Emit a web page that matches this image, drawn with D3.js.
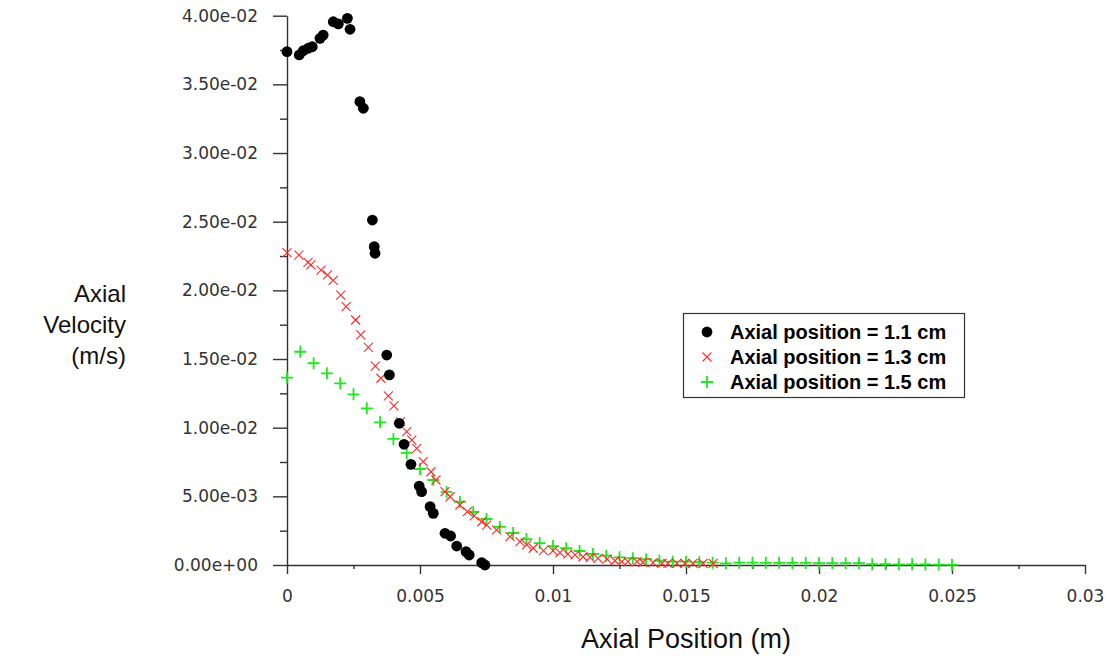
<!DOCTYPE html>
<html>
<head>
<meta charset="utf-8">
<script src="https://cdn.jsdelivr.net/npm/d3@7"></script>
<style>
  html, body { margin: 0; padding: 0; background: #ffffff; }
  svg { display: block; }
</style>
</head>
<body>
<svg id="chart" width="1105" height="662"></svg>
<script>
// Axial velocity profiles (m/s) against axial position (m) at three stations.
const seriesNames = ["Axial position = 1.1 cm", "Axial position = 1.3 cm", "Axial position = 1.5 cm"];

// Station 1.1 cm
const pos11 = [0, 0.00046, 0.00061, 0.00080, 0.00095, 0.00124, 0.00136, 0.00174, 0.00193, 0.00227,
  0.00237, 0.00274, 0.00287, 0.00321, 0.00328, 0.00331, 0.00375, 0.00385, 0.00422, 0.00440,
  0.00466, 0.00497, 0.00506, 0.00538, 0.00550, 0.00594, 0.00615, 0.00638, 0.00673, 0.00685,
  0.00732, 0.00744];
const vel11 = [0.03738, 0.03714, 0.03745, 0.03763, 0.03774, 0.03835, 0.03859, 0.03956, 0.03940, 0.03981,
  0.03901, 0.03374, 0.03326, 0.02512, 0.02318, 0.02270, 0.01529, 0.01384, 0.01032, 0.00879,
  0.00733, 0.00575, 0.00534, 0.00425, 0.00376, 0.00231, 0.00211, 0.00138, 0.00097, 0.00073,
  0.00017, 0.00000];

// Station 1.3 cm
const pos13 = [0, 0.00045, 0.00079, 0.00090, 0.00128, 0.00152, 0.00174, 0.00202, 0.00222, 0.00258,
  0.00277, 0.00306, 0.00332, 0.00353, 0.00381, 0.00402, 0.00427, 0.00450, 0.00469, 0.00488,
  0.00512, 0.00541, 0.00560, 0.00594, 0.00613, 0.00650, 0.00678, 0.00704, 0.00732, 0.00751,
  0.00788, 0.00838, 0.00876, 0.00901, 0.00926, 0.00964, 0.01000, 0.01026, 0.01056, 0.01083,
  0.01113, 0.01139, 0.01169, 0.01203, 0.01233, 0.01259, 0.01282, 0.01316, 0.01338, 0.01376,
  0.01410, 0.01432, 0.01466, 0.01496, 0.01526, 0.01564, 0.01602];
const vel13 = [0.02274, 0.02257, 0.02203, 0.02185, 0.02148, 0.02112, 0.02072, 0.01966, 0.01881, 0.01784,
  0.01675, 0.01585, 0.01449, 0.01360, 0.01231, 0.01158, 0.01044, 0.00971, 0.00910, 0.00850,
  0.00752, 0.00679, 0.00619, 0.00534, 0.00497, 0.00437, 0.00388, 0.00357, 0.00315, 0.00291,
  0.00255, 0.00206, 0.00170, 0.00146, 0.00122, 0.00104, 0.00104, 0.00090, 0.00080, 0.00073,
  0.00060, 0.00056, 0.00049, 0.00042, 0.00031, 0.00024, 0.00024, 0.00024, 0.00020, 0.00017,
  0.00012, 0.00012, 0.00012, 0.00012, 0.00012, 0.00012, 0.00012];

// Station 1.5 cm
const pos15 = [0, 0.0005, 0.001, 0.0015, 0.002, 0.0025, 0.003, 0.0035, 0.004, 0.0045,
  0.005, 0.0055, 0.006, 0.0065, 0.007, 0.0075, 0.008, 0.0085, 0.009, 0.0095,
  0.010, 0.0105, 0.011, 0.0115, 0.012, 0.0125, 0.013, 0.0135, 0.014, 0.0145,
  0.015, 0.0155, 0.016, 0.0165, 0.017, 0.0175, 0.018, 0.0185, 0.019, 0.0195,
  0.020, 0.0205, 0.021, 0.0215, 0.022, 0.0225, 0.023, 0.0235, 0.024, 0.0245, 0.025];
const vel15 = [0.01364, 0.01553, 0.01469, 0.01396, 0.01323, 0.01243, 0.01141, 0.01039, 0.00918, 0.00816,
  0.00699, 0.00619, 0.00532, 0.00459, 0.00386, 0.00335, 0.00277, 0.00233, 0.00189, 0.00160,
  0.00138, 0.00122, 0.00102, 0.00080, 0.00068, 0.00056, 0.00049, 0.00042, 0.00031, 0.00024,
  0.00024, 0.00020, 0.00017, 0.00012, 0.00017, 0.00017, 0.00016, 0.00016, 0.00015, 0.00015,
  0.00014, 0.00014, 0.00013, 0.00013, 0.00006, 0.00006, 0.00005, 0.00005, 0.00004, 0.00003, 0.00001];

// Axis ticks and their printed labels
const xTicks = [0, 0.005, 0.01, 0.015, 0.02, 0.025, 0.03];
const xTickLabels = ["0", "0.005", "0.01", "0.015", "0.02", "0.025", "0.03"];
const xMinorTicks = [0.0025, 0.0075, 0.0125, 0.0175, 0.0225, 0.0275];
const yTicks = [0, 0.005, 0.01, 0.015, 0.02, 0.025, 0.03, 0.035, 0.04];
const yTickLabels = ["0.00e+00", "5.00e-03", "1.00e-02", "1.50e-02", "2.00e-02",
  "2.50e-02", "3.00e-02", "3.50e-02", "4.00e-02"];
const yMinorTicks = [0.0025, 0.0075, 0.0125, 0.0175, 0.0225, 0.0275, 0.0325, 0.0375];

const svg = d3.select("#chart");
const axisColor = "#333333";
const font = "'Liberation Sans', Arial, sans-serif";
const tickFont = "'DejaVu Sans', sans-serif";

const x = d3.scaleLinear().domain([0, 0.03]).range([287, 1085]);
const y = d3.scaleLinear().domain([0, 0.04]).range([565, 15.7]);

// Bottom axis: major + minor ticks
svg.append("g").attr("transform", `translate(0,${y(0)})`)
  .call(d3.axisBottom(x).tickValues(xTicks).tickFormat((d, i) => xTickLabels[i])
    .tickSize(9).tickPadding(16).tickSizeOuter(0));
svg.append("g").attr("transform", `translate(0,${y(0)})`)
  .call(d3.axisBottom(x).tickValues(xMinorTicks).tickFormat("").tickSize(4).tickSizeOuter(0))
  .call(g => g.select(".domain").remove());

// Left axis: major + minor ticks
svg.append("g").attr("transform", `translate(${x(0)},0)`)
  .call(d3.axisLeft(y).tickValues(yTicks).tickFormat((d, i) => yTickLabels[i])
    .tickSize(14).tickPadding(15).tickSizeOuter(0));
svg.append("g").attr("transform", `translate(${x(0)},0)`)
  .call(d3.axisLeft(y).tickValues(yMinorTicks).tickFormat("").tickSize(7).tickSizeOuter(0))
  .call(g => g.select(".domain").remove());

svg.selectAll(".domain, .tick line").attr("stroke", axisColor).attr("stroke-width", 1.4);
svg.selectAll(".tick text").attr("fill", "#333333")
  .style("font-family", tickFont).style("font-size", "17px");

// Axis titles
svg.append("text")
  .attr("x", 686).attr("y", 648)
  .attr("text-anchor", "middle")
  .style("font-family", font).style("font-size", "27px").attr("fill", "#111")
  .text("Axial Position (m)");

const yTitle = ["Axial", "Velocity", "(m/s)"];
svg.append("g").selectAll("text").data(yTitle).join("text")
  .attr("x", 126).attr("y", (d, i) => 302 + i * 31)
  .attr("text-anchor", "end")
  .style("font-family", font).style("font-size", "24px").attr("fill", "#111")
  .text(d => d);

// Marker painters
const red = "#ff2a2a", green = "#1ee81e";
function drawDot(g, cx, cy) {
  g.append("circle").attr("cx", cx).attr("cy", cy).attr("r", 5.4).attr("fill", "#000");
}
function drawCross(g, cx, cy) {
  const s = 4.5;
  g.append("path")
    .attr("d", `M${cx - s},${cy - s}L${cx + s},${cy + s}M${cx - s},${cy + s}L${cx + s},${cy - s}`)
    .attr("stroke", red).attr("stroke-width", 1.1).attr("fill", "none");
}
function drawPlus(g, cx, cy) {
  const s = 6;
  g.append("path")
    .attr("d", `M${cx - s},${cy}L${cx + s},${cy}M${cx},${cy - s}L${cx},${cy + s}`)
    .attr("stroke", green).attr("stroke-width", 1.8).attr("fill", "none");
}

const series = [
  { pos: pos11, vel: vel11, draw: drawDot },
  { pos: pos13, vel: vel13, draw: drawCross },
  { pos: pos15, vel: vel15, draw: drawPlus }
];

// Points: drawn so the 1.5 cm pluses sit under the other two
const order = [2, 1, 0];
order.forEach(k => {
  const s = series[k];
  const g = svg.append("g");
  s.pos.forEach((p, i) => s.draw(g, x(p), y(s.vel[i])));
});

// Legend
const legend = svg.append("g");
legend.append("rect").attr("x", 683.5).attr("y", 313.5).attr("width", 281).attr("height", 84)
  .attr("fill", "#fff").attr("stroke", "#333").attr("stroke-width", 1.2);
seriesNames.forEach((name, i) => {
  const cy = 332 + i * 25;
  series[i].draw(legend, 707, cy);
  legend.append("text").attr("x", 730).attr("y", cy + 7)
    .style("font-family", font).style("font-size", "20px").style("font-weight", "bold")
    .attr("fill", "#000").text(name);
});
</script>
</body>
</html>
